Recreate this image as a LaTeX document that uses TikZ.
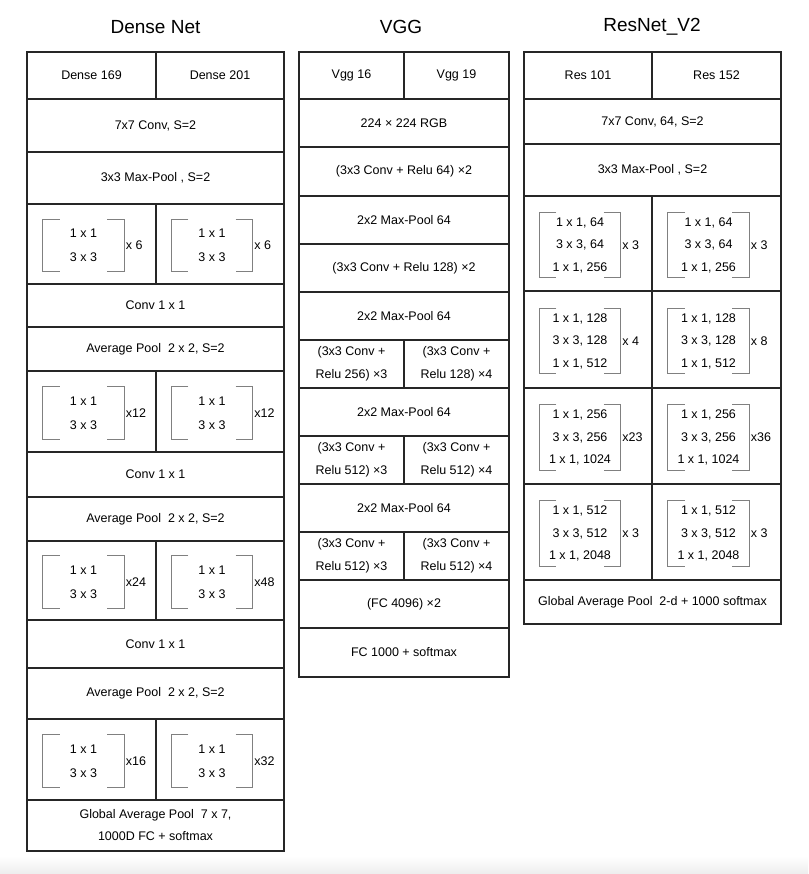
\documentclass[tikz,border=0pt]{standalone}
\usepackage{fontspec}
\setmainfont{Liberation Sans}
\begin{document}
\begin{tikzpicture}[x=1pt, y=-1pt,
  cellbox/.style={draw=black!85, line width=1.2pt, inner sep=0pt, align=center, font=\fontsize{12.5}{23}\selectfont},
  dblk/.style={minimum width=81, minimum height=52, inner sep=0pt, yshift=-1.5, align=center, font=\fontsize{12.5}{24}\selectfont},
  rblk/.style={minimum width=81, minimum height=65, inner sep=0pt, yshift=-1.5, align=center, font=\fontsize{12.5}{22.5}\selectfont},
  mult/.style={anchor=west, inner sep=1.5pt, font=\fontsize{12.5}{15}\selectfont},
  bline/.style={draw=black!50, line width=1pt},
  nettitle/.style={font=\fontsize{19}{22}\selectfont}]
  \useasboundingbox (0,0) rectangle (808,874);
  \shade[top color=white, bottom color=black!7] (0,856) rectangle (808,874);

  % Dense Net
  \node[nettitle] (tdense) at (155.5,27) {Dense Net};
  \node[cellbox, minimum width=129, minimum height=47] (d0l) at (91.5,75.5) {Dense 169};
  \node[cellbox, minimum width=128, minimum height=47] (d0r) at (220,75.5) {Dense 201};
  \node[cellbox, minimum width=257, minimum height=53] (d1) at (155.5,125.5) {7x7 Conv, S=2};
  \node[cellbox, minimum width=257, minimum height=52] (d2) at (155.5,178) {3x3 Max-Pool , S=2};
  \node[cellbox, minimum width=129, minimum height=80] (d3l) at (91.5,244) {};
  \node[cellbox, minimum width=128, minimum height=80] (d3r) at (220,244) {};
  \node[dblk, xshift=-8] (bd3l) at (d3l) {1 x 1\\3 x 3};
  \node[dblk, xshift=-8] (bd3r) at (d3r) {1 x 1\\3 x 3};
  \node[mult] (md3l) at (bd3l.east) {x 6};
  \node[mult] (md3r) at (bd3r.east) {x 6};
  \node[cellbox, minimum width=257, minimum height=43] (d4) at (155.5,305.5) {Conv 1 x 1};
  \node[cellbox, minimum width=257, minimum height=44] (d5) at (155.5,349) {Average Pool\ \ 2 x 2, S=2};
  \node[cellbox, minimum width=129, minimum height=81] (d6l) at (91.5,411.5) {};
  \node[cellbox, minimum width=128, minimum height=81] (d6r) at (220,411.5) {};
  \node[dblk, xshift=-8] (bd6l) at (d6l) {1 x 1\\3 x 3};
  \node[dblk, xshift=-8] (bd6r) at (d6r) {1 x 1\\3 x 3};
  \node[mult] (md6l) at (bd6l.east) {x12};
  \node[mult] (md6r) at (bd6r.east) {x12};
  \node[cellbox, minimum width=257, minimum height=45] (d7) at (155.5,474.5) {Conv 1 x 1};
  \node[cellbox, minimum width=257, minimum height=44] (d8) at (155.5,519) {Average Pool\ \ 2 x 2, S=2};
  \node[cellbox, minimum width=129, minimum height=79] (d9l) at (91.5,580.5) {};
  \node[cellbox, minimum width=128, minimum height=79] (d9r) at (220,580.5) {};
  \node[dblk, xshift=-8] (bd9l) at (d9l) {1 x 1\\3 x 3};
  \node[dblk, xshift=-8] (bd9r) at (d9r) {1 x 1\\3 x 3};
  \node[mult] (md9l) at (bd9l.east) {x24};
  \node[mult] (md9r) at (bd9r.east) {x48};
  \node[cellbox, minimum width=257, minimum height=48] (d10) at (155.5,644) {Conv 1 x 1};
  \node[cellbox, minimum width=257, minimum height=51] (d11) at (155.5,693.5) {Average Pool\ \ 2 x 2, S=2};
  \node[cellbox, minimum width=129, minimum height=81] (d12l) at (91.5,759.5) {};
  \node[cellbox, minimum width=128, minimum height=81] (d12r) at (220,759.5) {};
  \node[dblk, xshift=-8] (bd12l) at (d12l) {1 x 1\\3 x 3};
  \node[dblk, xshift=-8] (bd12r) at (d12r) {1 x 1\\3 x 3};
  \node[mult] (md12l) at (bd12l.east) {x16};
  \node[mult] (md12r) at (bd12r.east) {x32};
  \node[cellbox, minimum width=257, minimum height=51, font=\fontsize{12.5}{22}\selectfont] (d13) at (155.5,825.5) {Global Average Pool\ \ 7 x 7,\\1000D FC + softmax};

  % VGG
  \node[nettitle] (tvgg) at (401,27) {VGG};
  \node[cellbox, minimum width=105, minimum height=47] (v0l) at (351.5,75.5) {Vgg 16};
  \node[cellbox, minimum width=105, minimum height=47] (v0r) at (456.5,75.5) {Vgg 19};
  \node[cellbox, minimum width=210, minimum height=48] (v1) at (404,123) {224 × 224 RGB};
  \node[cellbox, minimum width=210, minimum height=49] (v2) at (404,171.5) {(3x3 Conv + Relu 64) ×2};
  \node[cellbox, minimum width=210, minimum height=48] (v3) at (404,220) {2x2 Max-Pool 64};
  \node[cellbox, minimum width=210, minimum height=48] (v4) at (404,268) {(3x3 Conv + Relu 128) ×2};
  \node[cellbox, minimum width=210, minimum height=48] (v5) at (404,316) {2x2 Max-Pool 64};
  \node[cellbox, minimum width=105, minimum height=48] (v6l) at (351.5,364) {(3x3 Conv +\\Relu 256) ×3};
  \node[cellbox, minimum width=105, minimum height=48] (v6r) at (456.5,364) {(3x3 Conv +\\Relu 128) ×4};
  \node[cellbox, minimum width=210, minimum height=48] (v7) at (404,412) {2x2 Max-Pool 64};
  \node[cellbox, minimum width=105, minimum height=48] (v8l) at (351.5,460) {(3x3 Conv +\\Relu 512) ×3};
  \node[cellbox, minimum width=105, minimum height=48] (v8r) at (456.5,460) {(3x3 Conv +\\Relu 512) ×4};
  \node[cellbox, minimum width=210, minimum height=48] (v9) at (404,508) {2x2 Max-Pool 64};
  \node[cellbox, minimum width=105, minimum height=48] (v10l) at (351.5,556) {(3x3 Conv +\\Relu 512) ×3};
  \node[cellbox, minimum width=105, minimum height=48] (v10r) at (456.5,556) {(3x3 Conv +\\Relu 512) ×4};
  \node[cellbox, minimum width=210, minimum height=48] (v11) at (404,604) {(FC 4096) ×2};
  \node[cellbox, minimum width=210, minimum height=49] (v12) at (404,652.5) {FC 1000 + softmax};

  % ResNet_V2
  \node[nettitle] (tres) at (652,27) {ResNet\_V2};
  \node[cellbox, minimum width=128, minimum height=47] (r0l) at (588,75.5) {Res 101};
  \node[cellbox, minimum width=129, minimum height=47] (r0r) at (716.5,75.5) {Res 152};
  \node[cellbox, minimum width=257, minimum height=45] (r1) at (652.5,121.5) {7x7 Conv, 64, S=2};
  \node[cellbox, minimum width=257, minimum height=52] (r2) at (652.5,170) {3x3 Max-Pool , S=2};
  \node[cellbox, minimum width=128, minimum height=95] (r3l) at (588,243.5) {};
  \node[cellbox, minimum width=129, minimum height=95] (r3r) at (716.5,243.5) {};
  \node[rblk, xshift=-8] (br3l) at (r3l) {1 x 1, 64\\3 x 3, 64\\1 x 1, 256};
  \node[rblk, xshift=-8] (br3r) at (r3r) {1 x 1, 64\\3 x 3, 64\\1 x 1, 256};
  \node[mult] (mr3l) at (br3l.east) {x 3};
  \node[mult] (mr3r) at (br3r.east) {x 3};
  \node[cellbox, minimum width=128, minimum height=97] (r4l) at (588,339.5) {};
  \node[cellbox, minimum width=129, minimum height=97] (r4r) at (716.5,339.5) {};
  \node[rblk, xshift=-8] (br4l) at (r4l) {1 x 1, 128\\3 x 3, 128\\1 x 1, 512};
  \node[rblk, xshift=-8] (br4r) at (r4r) {1 x 1, 128\\3 x 3, 128\\1 x 1, 512};
  \node[mult] (mr4l) at (br4l.east) {x 4};
  \node[mult] (mr4r) at (br4r.east) {x 8};
  \node[cellbox, minimum width=128, minimum height=96] (r5l) at (588,436) {};
  \node[cellbox, minimum width=129, minimum height=96] (r5r) at (716.5,436) {};
  \node[rblk, xshift=-8] (br5l) at (r5l) {1 x 1, 256\\3 x 3, 256\\1 x 1, 1024};
  \node[rblk, xshift=-8] (br5r) at (r5r) {1 x 1, 256\\3 x 3, 256\\1 x 1, 1024};
  \node[mult] (mr5l) at (br5l.east) {x23};
  \node[mult] (mr5r) at (br5r.east) {x36};
  \node[cellbox, minimum width=128, minimum height=96] (r6l) at (588,532) {};
  \node[cellbox, minimum width=129, minimum height=96] (r6r) at (716.5,532) {};
  \node[rblk, xshift=-8] (br6l) at (r6l) {1 x 1, 512\\3 x 3, 512\\1 x 1, 2048};
  \node[rblk, xshift=-8] (br6r) at (r6r) {1 x 1, 512\\3 x 3, 512\\1 x 1, 2048};
  \node[mult] (mr6l) at (br6l.east) {x 3};
  \node[mult] (mr6r) at (br6r.east) {x 3};
  \node[cellbox, minimum width=257, minimum height=44] (r7) at (652.5,602) {Global Average Pool\ \ 2-d + 1000 softmax};

  % brackets round the blocks
  \foreach \b in {bd3l,bd3r,bd6l,bd6r,bd9l,bd9r,bd12l,bd12r,br3l,br3r,br4l,br4r,br5l,br5r,br6l,br6r} {
    \draw[bline] ([xshift=17]\b.north west) -| (\b.south west) -- ++(17,0);
    \draw[bline] ([xshift=-17]\b.north east) -| (\b.south east) -- ++(-17,0);
  }
\end{tikzpicture}
\end{document}
